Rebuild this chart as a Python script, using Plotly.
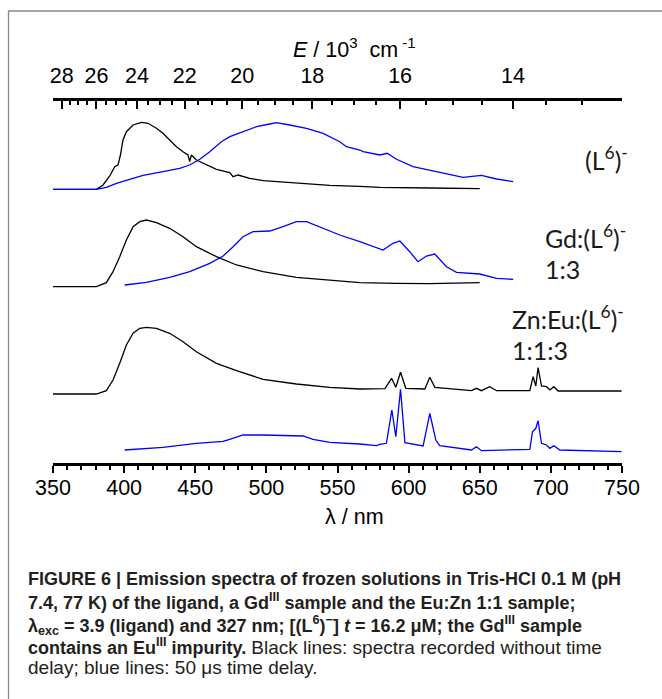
import plotly.graph_objects as go

# ---------------- data (wavelength in nm, intensity in arbitrary stacked units) -------------
lig_nodelay_nm = [350, 380.5, 385.2, 389.9, 393.4, 395.7, 397.4, 399.2, 401.6, 406.3, 412.2, 416.8, 422.7, 427.3,
                  432, 436.8, 441.4, 444.9, 446.1, 447.3, 450.8, 457.9, 464.9, 474.2, 476.6, 480.1, 488.3, 497.7,
                  521.1, 544.6, 565.7, 579.7, 614.9, 650]
lig_nodelay_I = [273.7, 273.7, 278, 287, 296.3, 298, 308, 323, 331.3, 338, 340.7, 339.7, 334.7, 329.7,
                 323, 316.3, 311.3, 308, 301.3, 308, 303, 298, 293.7, 290.3, 286.3, 288, 284.7, 282.3,
                 279.7, 277.7, 276.7, 275.7, 275, 274.3]

lig_delay_nm = [350, 380.5, 387.5, 394.6, 403.9, 413.3, 427.3, 439.1, 446.1, 453.2, 460.2, 468.4, 474.3, 483.6,
                493, 502.4, 507.1, 516.4, 528.2, 539.9, 551.6, 556.3, 565.7, 568, 579.7, 584.9, 591.5, 603.1,
                614.9, 626.6, 638.3, 651.2, 661.8, 673.5]
lig_delay_I = [273.7, 273.7, 275.7, 279.7, 283.7, 287.7, 291.3, 294.7, 298, 303.7, 311.3, 321.3, 326.3, 331.3,
               336.3, 339, 340.3, 338, 334.7, 329.7, 321.3, 316.3, 313, 311.3, 308, 309.7, 303.7, 296.3,
               293, 289, 285.7, 287.7, 284, 281.3]

gd_nodelay_nm = [350, 380.5, 387.5, 392.2, 396.9, 401.6, 406.3, 411, 415.7, 422.7, 432, 441.4, 450.8, 464.9,
                 479, 497.7, 521.1, 544.6, 565.7, 591.5, 614.9, 650]
gd_nodelay_I = [176.3, 176.3, 180.3, 191.3, 206.3, 223, 236.3, 241.3, 243, 240.3, 234.7, 226.3, 216.3, 206.3,
                198, 191.3, 185.7, 183, 180.3, 179.7, 179.3, 180.3]

gd_delay_nm = [400.4, 415.7, 432, 446.1, 460.2, 469.6, 476.6, 483.6, 490.6, 502.4, 511.7, 521.1, 528.2, 539.9,
               551.6, 565.7, 582, 589, 593.8, 600.8, 606.6, 612.6, 618.4, 626.6, 633.7, 650, 661.8, 673.5]
gd_delay_I = [178, 180.7, 185.7, 191.3, 199.7, 207, 216.3, 226.3, 231.3, 232, 236.3, 241.3, 241.3, 234.7,
              228, 221.3, 213, 219.7, 222, 211.3, 201.3, 207, 209, 196.3, 190.7, 189, 184.7, 183.7]

zneu_nodelay_nm = [350, 380.5, 387.5, 392.2, 396.9, 401.6, 406.3, 411, 415.7, 422.7, 432, 441.4, 450.8, 464.9,
                   479, 497.7, 521.1, 544.6, 566, 583.4, 588, 591, 594.3, 598, 611.4, 614.9, 618.4, 644.2,
                   647.7, 651.2, 657, 661.8, 685.2, 687.5, 689.4, 691, 693.4, 696.9, 699.3, 702.1, 705.1, 749.7]
zneu_nodelay_I = [69, 69, 72.3, 83, 99.7, 118, 129.7, 134.7, 135.7, 134.7, 129.7, 121.3, 111.3, 99.7,
                  92.3, 83.7, 79, 75.7, 74, 74.3, 84.7, 75.7, 90.7, 74.7, 74, 85.7, 75.7, 72.3,
                  74.7, 72.3, 76.3, 72.3, 72.3, 86.3, 77, 95.3, 77, 76.3, 73, 76.3, 72, 72]

zneu_delay_nm = [400.4, 427.3, 450.8, 469.6, 474.2, 483.6, 497.7, 516.4, 525.8, 532.8, 544.6, 565.7, 577.4,
                 579.7, 584.4, 588.2, 591, 594.3, 597.4, 610.2, 614.9, 619.1, 621.9, 644.2, 647.7, 651.2,
                 685.2, 687.1, 689.4, 691, 693.4, 696.9, 699.3, 702.1, 706.3, 749.7]
zneu_delay_I = [13, 15.7, 19.7, 21.7, 23.7, 28, 28, 27.3, 27, 23.7, 20.7, 19, 17.3,
                18.7, 19.7, 53, 26.3, 73.7, 20.3, 17, 49.7, 23, 17.3, 13, 16.3, 12.3,
                13.7, 31.3, 34.7, 42.3, 19.7, 18, 14.7, 17.3, 13, 11.3]

# bottom axis ticks (nm)
nm_major = [350, 400, 450, 500, 550, 600, 650, 700, 750]
# top axis: energy labels (10^3 cm^-1); the top scale spans E = 28.55 ... 12.49 across the frame
E_major = [28, 26, 24, 22, 20, 18, 16, 14]
E_minor = [28.5, 27.5, 27, 26.5, 25.5, 25, 24.5, 23.5, 23, 22.5, 21.5, 21, 20.5, 19.5, 19, 18.5,
           17.5, 17, 16.5, 15.5, 15, 14.5, 13.5, 13, 12.5]
E_left, E_right = 28.55, 12.49

sample_labels = [["(L<sup>6</sup>)<sup>-</sup>"],
                 ["Gd:(L<sup>6</sup>)<sup>-</sup>", "1:3"],
                 ["Zn:Eu:(L<sup>6</sup>)<sup>-</sup>", "1:1:3"]]

REG = '<span style="font-size:19px">'
caption_lines = [
    "<b>FIGURE 6 | Emission spectra of frozen solutions in Tris-HCl 0.1 M (pH</b>",
    "<b>7.4, 77 K) of the ligand, a Gd<sup>III</sup> sample and the Eu:Zn 1:1 sample;</b>",
    "<b>λ<sub>exc</sub> = 3.9 (ligand) and 327 nm; [(L<sup>6</sup>)<sup>−</sup>] <i>t</i> = 16.2 μM; the Gd<sup>III</sup> sample</b>",
    "<b>contains an Eu<sup>III</sup> impurity.</b> " + REG + "Black lines: spectra recorded without time</span>",
    REG + "delay; blue lines: 50 μs time delay.</span>",
]

# ---------------- figure ----------------
W, H = 662, 699
L, R, T, B = 53, 40, 101, 236
PW, PH = W - L - R, H - T - B


def px(x):
    return (x - L) / PW


def py(y):
    return (H - B - y) / PH


fig = go.Figure()
series = [
    (lig_nodelay_nm, lig_nodelay_I, "black"),
    (lig_delay_nm, lig_delay_I, "#0000ff"),
    (gd_nodelay_nm, gd_nodelay_I, "black"),
    (gd_delay_nm, gd_delay_I, "#0000ff"),
    (zneu_nodelay_nm, zneu_nodelay_I, "black"),
    (zneu_delay_nm, zneu_delay_I, "#0000ff"),
]
for xs, ys, c in series:
    fig.add_trace(go.Scatter(x=xs, y=ys, mode="lines", line=dict(color=c, width=1.3),
                             showlegend=False, hoverinfo="skip"))
# invisible trace to activate top axis
fig.add_trace(go.Scatter(x=[1 / E_left], y=[0], xaxis="x2", mode="markers",
                         marker=dict(opacity=0), showlegend=False, hoverinfo="skip"))

axfont = dict(family="Liberation Sans, Arial, sans-serif", size=21.5, color="black")

fig.update_layout(
    width=W, height=H,
    margin=dict(l=L, r=R, t=T, b=B, pad=0),
    paper_bgcolor="white", plot_bgcolor="white",
    xaxis=dict(range=[350, 750], showgrid=False, zeroline=False, showline=True, linecolor="black",
               linewidth=3, ticks="outside", tickvals=nm_major, ticklen=7, tickwidth=2, tickcolor="black",
               minor=dict(dtick=10, tick0=350, ticks="outside", ticklen=4, tickwidth=2, tickcolor="black"),
               tickfont=axfont, ticklabelstandoff=-4),
    xaxis2=dict(overlaying="x", side="top", range=[1 / E_left, 1 / E_right], showgrid=False,
                zeroline=False, showline=True, linecolor="black", linewidth=3,
                ticks="inside", tickvals=[1 / e for e in E_major], ticktext=[str(e) for e in E_major],
                ticklen=8, tickwidth=2, tickcolor="black",
                minor=dict(tickvals=[1 / e for e in E_minor], ticks="inside", ticklen=4, tickwidth=2,
                           tickcolor="black"),
                tickfont=axfont, ticklabelstandoff=6),
    yaxis=dict(range=[0, PH], visible=False, fixedrange=True),
)

ann = []
ann.append(dict(x=px(354), y=py(517), xref="paper", yref="paper", text="λ / nm", showarrow=False,
                font=axfont, xanchor="center", yanchor="middle"))
ann.append(dict(x=px(354), y=py(48), xref="paper", yref="paper",
                text="<i>E</i> / 10<sup>3</sup>  cm<sup> -1</sup>", showarrow=False,
                font=axfont, xanchor="center", yanchor="middle"))

lblfont = dict(family="Lato, Open Sans, sans-serif", size=25, color="#1a1a1a")
label_pos = [[(583, 158)], [(543, 236), (543, 269)], [(510, 317), (510, 350)]]
for lines, poss in zip(sample_labels, label_pos):
    for t, (lx, ly) in zip(lines, poss):
        ann.append(dict(x=px(lx), y=py(ly), xref="paper", yref="paper", text=t, showarrow=False,
                        font=lblfont, xanchor="left", yanchor="middle"))

capfont = dict(family="Liberation Sans, Arial, sans-serif", size=18, color="#231f20")
cap_y = [579, 601, 625, 646, 667]
for t, cy in zip(caption_lines, cap_y):
    ann.append(dict(x=px(26), y=py(cy), xref="paper", yref="paper", text=t, showarrow=False,
                    font=capfont, xanchor="left", yanchor="middle", align="left"))

fig.update_layout(annotations=ann)

fig.add_shape(type="rect", xref="paper", yref="paper", x0=px(8.5), x1=px(720), y0=py(760), y1=py(11),
              line=dict(color="#888888", width=1.3), fillcolor="rgba(0,0,0,0)", layer="below")

fig.write_html("out.html")
